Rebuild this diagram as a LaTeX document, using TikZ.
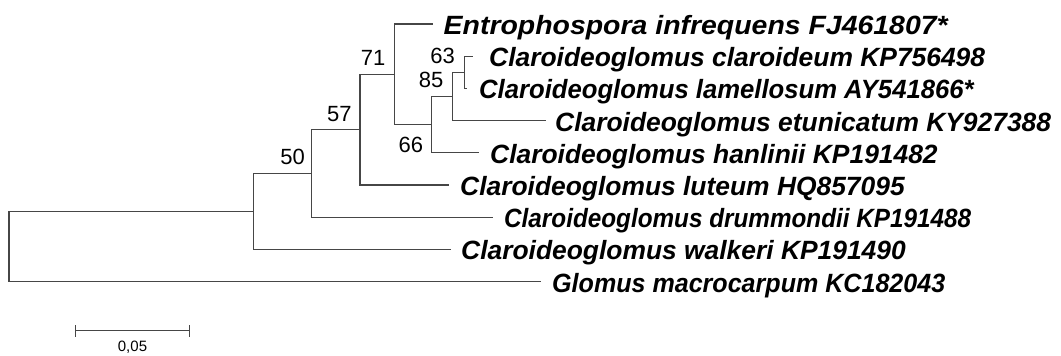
\documentclass[tikz,border=0pt]{standalone}
\usepackage{fontspec}
\setmainfont{Liberation Sans}
\definecolor{linegray}{RGB}{70,70,70}
\begin{document}
\begin{tikzpicture}[x=1pt,y=-1pt,
  br/.style={draw=linegray,line width=1.3pt},
  taxon/.style={anchor=base west,inner sep=0pt,font=\fontsize{26.4}{26.4}\selectfont\bfseries\itshape},
  boot/.style={inner sep=0pt,anchor=south east,font=\fontsize{22}{22}\selectfont},
]
\useasboundingbox (0,0) rectangle (1061,356);
% internal nodes
\coordinate (root) at (9,246.5);
\coordinate (n50) at (253.3,211.4);
\coordinate (n57) at (311.7,173.4);
\coordinate (n71) at (360,129.65);
\coordinate (nE) at (394.3,74.3);
\coordinate (n66) at (431.7,124.6);
\coordinate (n85) at (452.7,96.45);
\coordinate (n63) at (464.3,72.3);
% leaves
\coordinate (lE) at (432.7,24);
\coordinate (lCl) at (473,56.2);
\coordinate (lLa) at (467,88.4);
\coordinate (lEt) at (546,120.6);
\coordinate (lHa) at (479,152.8);
\coordinate (lLu) at (449.4,185);
\coordinate (lDr) at (493,217.2);
\coordinate (lWa) at (451,249.4);
\coordinate (lGl) at (540.7,281.6);
% branches
\draw[br] (root) |- (n50);
\draw[br] (root) |- (lGl);
\draw[br] (n50) |- (n57);
\draw[br] (n50) |- (lWa);
\draw[br] (n57) |- (n71);
\draw[br] (n57) |- (lDr);
\draw[br] (n71) |- (nE);
\draw[br] (n71) |- (lLu);
\draw[br] (nE) |- (lE);
\draw[br] (nE) |- (n66);
\draw[br] (n66) |- (n85);
\draw[br] (n66) |- (lHa);
\draw[br] (n85) |- (n63);
\draw[br] (n85) |- (lEt);
\draw[br] (n63) |- (lCl);
\draw[br] (n63) |- (lLa);
% taxa
\node[taxon] (tE) at (443.5,34.5) {\scalebox{1.077}[1]{Entrophospora infrequens FJ461807*}};
\node[taxon] (tCl) at (489,66.7) {Claroideoglomus claroideum KP756498};
\node[taxon] (tLa) at (479,98.9) {\scalebox{0.972}[1]{Claroideoglomus lamellosum AY541866*}};
\node[taxon] (tEt) at (555,131.1) {Claroideoglomus etunicatum KY927388};
\node[taxon] (tHa) at (490,163.3) {Claroideoglomus hanlinii KP191482};
\node[taxon] (tLu) at (460,195.5) {Claroideoglomus luteum HQ857095};
\node[taxon] (tDr) at (504,227.7) {\scalebox{0.92}[1]{Claroideoglomus drummondii KP191488}};
\node[taxon] (tWa) at (461,259.9) {Claroideoglomus walkeri KP191490};
\node[taxon] (tGl) at (552,292.1) {\scalebox{0.95}[1]{Glomus macrocarpum KC182043}};
% bootstrap
\node[boot] (b71) at (385.5,65.5) {71};
\node[boot] (b57) at (351.7,121.7) {57};
\node[boot] (b50) at (305,165) {50};
\node[boot] (b63) at (455,64) {63};
\node[boot] (b85) at (443.5,88.3) {85};
\node[boot,anchor=north east] (b66) at (423.3,136.7) {66};
% scale bar
\coordinate (sL) at (75.7,330.7);
\coordinate (sR) at (189.3,330.7);
\draw[br,line width=1.1pt] (sL) -- (sR);
\draw[br,line width=1.1pt] ([yshift=5.7pt]sL) -- ([yshift=-6pt]sL);
\draw[br,line width=1.1pt] ([yshift=5.7pt]sR) -- ([yshift=-6pt]sR);
\node[inner sep=0pt,font=\fontsize{15}{15}\selectfont] (sc) at (132.5,347) {0,05};
\end{tikzpicture}
\end{document}
